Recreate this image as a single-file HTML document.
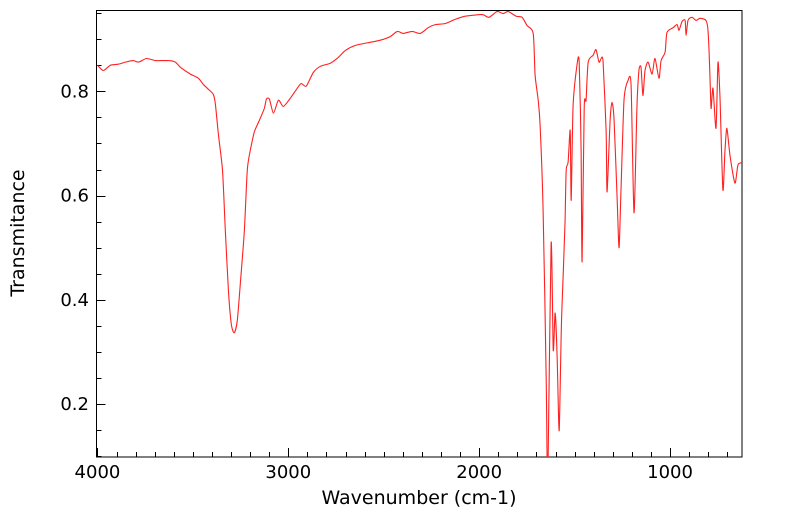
<!DOCTYPE html>
<html><head><meta charset="utf-8"><style>
html,body{margin:0;padding:0;background:#fff;}
svg{display:block;font-family:"DejaVu Sans","Liberation Sans",sans-serif;}
</style></head><body>
<svg id="chart" width="799" height="516" viewBox="0 0 799 516" xmlns="http://www.w3.org/2000/svg">
<rect x="96.5" y="10.5" width="645.5" height="446.5" fill="none" stroke="#000" stroke-width="1"/>
<g id="ticks"></g>
<path id="spectrum" fill="none" stroke="#ff2020" stroke-width="1.1"/>
<text x="419" y="504" font-size="19" text-anchor="middle">Wavenumber (cm-1)</text>
<text x="24" y="233" font-size="19" text-anchor="middle" transform="rotate(-90 24 233)">Transmitance</text>
</svg>
<script>
const wavenumbers=[4000,3969,3932,3890,3853,3812,3785,3743,3696,3628,3592,3565,3513,3471,3445,3419,3393,3382,3366,3345,3330,3314,3298,3283,3267,3246,3230,3215,3199,3178,3152,3126,3115,3099,3078,3052,3026,2989,2953,2932,2906,2869,2832,2780,2738,2702,2649,2571,2518,2466,2429,2398,2351,2309,2267,2230,2178,2126,2073,2005,1979,1948,1906,1874,1848,1806,1775,1749,1717,1707,1691,1681,1665,1649,1644,1639,1623,1612,1602,1591,1581,1570,1560,1550,1544,1534,1523,1518,1508,1487,1476,1466,1461,1450,1440,1429,1403,1388,1372,1361,1351,1335,1330,1314,1304,1293,1277,1267,1257,1241,1220,1204,1189,1173,1163,1152,1142,1131,1115,1094,1079,1058,1047,1026,1016,984,963,953,937,921,916,906,885,864,843,812,801,791,785,775,759,749,738,723,712,702,686,660,644,623];
const transmittance=[0.850,0.840,0.850,0.852,0.856,0.859,0.856,0.863,0.859,0.859,0.856,0.846,0.833,0.825,0.813,0.804,0.794,0.775,0.716,0.649,0.534,0.419,0.352,0.337,0.362,0.457,0.534,0.649,0.687,0.722,0.744,0.767,0.785,0.785,0.758,0.783,0.771,0.787,0.806,0.815,0.810,0.836,0.848,0.854,0.865,0.878,0.888,0.894,0.898,0.905,0.915,0.911,0.915,0.911,0.922,0.928,0.930,0.938,0.944,0.947,0.947,0.942,0.953,0.949,0.953,0.944,0.942,0.926,0.911,0.831,0.783,0.735,0.572,0.247,0.09,0.09,0.509,0.304,0.375,0.285,0.149,0.343,0.448,0.553,0.649,0.664,0.725,0.591,0.773,0.852,0.856,0.687,0.473,0.767,0.783,0.856,0.869,0.880,0.856,0.863,0.856,0.725,0.607,0.744,0.779,0.744,0.591,0.500,0.611,0.783,0.821,0.811,0.567,0.773,0.840,0.846,0.792,0.840,0.856,0.833,0.863,0.825,0.859,0.875,0.913,0.922,0.928,0.917,0.934,0.936,0.907,0.936,0.942,0.936,0.940,0.936,0.917,0.831,0.767,0.806,0.729,0.856,0.783,0.611,0.687,0.729,0.677,0.624,0.659,0.663];
const xTickLabels=[4000,3000,2000,1000];
const yTickLabels=[0.2,0.4,0.6,0.8];
const X0=96.5,X1=742,Y0=457,Y1=10.5;
const xMax=4005,xMin=623,yMin=0.0986,yMax=0.955;
const xs=v=>X0+(xMax-v)/(xMax-xMin)*(X1-X0);
const ys=v=>Y0-(v-yMin)/(yMax-yMin)*(Y0-Y1);
const ns="http://www.w3.org/2000/svg";
const line=document.getElementById('spectrum');
const P=wavenumbers.map((w,i)=>[xs(w),Math.min(Y0+5,ys(transmittance[i]))]);
let d='M'+P[0][0].toFixed(1)+','+P[0][1].toFixed(1);
for(let i=0;i<P.length-1;i++){const p0=P[Math.max(0,i-1)],p1=P[i],p2=P[i+1],p3=P[Math.min(P.length-1,i+2)];const k=0.12;
d+=' C'+(p1[0]+(p2[0]-p0[0])*k).toFixed(1)+','+(p1[1]+(p2[1]-p0[1])*k).toFixed(1)+' '+(p2[0]-(p3[0]-p1[0])*k).toFixed(1)+','+(p2[1]-(p3[1]-p1[1])*k).toFixed(1)+' '+p2[0].toFixed(1)+','+p2[1].toFixed(1);}
line.setAttribute('d',d);
const svg=document.getElementById('chart');
const clip=document.createElementNS(ns,'clipPath');clip.setAttribute('id','c');
const cr=document.createElementNS(ns,'rect');cr.setAttribute('x',X0);cr.setAttribute('y',Y1);cr.setAttribute('width',X1-X0);cr.setAttribute('height',Y0-Y1);
clip.appendChild(cr);svg.insertBefore(clip,svg.firstChild);line.setAttribute('clip-path','url(#c)');
const g=document.getElementById('ticks');
function tk(x1,y1,x2,y2){const l=document.createElementNS(ns,'line');


l.setAttribute('x1',x1);l.setAttribute('y1',y1);l.setAttribute('x2',x2);l.setAttribute('y2',y2);l.setAttribute('stroke','#000');g.appendChild(l);}
for(let w=4000;w>=700;w-=100){const x=Math.round(xs(w))+0.5;const major=w%1000===0;tk(x,Y0,x,Y0-(major?9:5));}
for(let v=0.1;v<=0.951;v+=0.05){const y=Math.round(ys(v))+0.5;const major=Math.abs(v*5-Math.round(v*5))<1e-6;tk(X0,y,X0+(major?9:5),y);}
xTickLabels.forEach(w=>{const t=document.createElementNS(ns,'text');


t.setAttribute('x',xs(w));t.setAttribute('y',478);t.setAttribute('font-size','18');t.setAttribute('text-anchor','middle');t.textContent=w;g.appendChild(t);});
yTickLabels.forEach(v=>{const t=document.createElementNS(ns,'text');


t.setAttribute('x',89);t.setAttribute('y',ys(v)+6);t.setAttribute('font-size','18');t.setAttribute('text-anchor','end');t.textContent=v.toFixed(1);g.appendChild(t);});
</script>
</body></html>
